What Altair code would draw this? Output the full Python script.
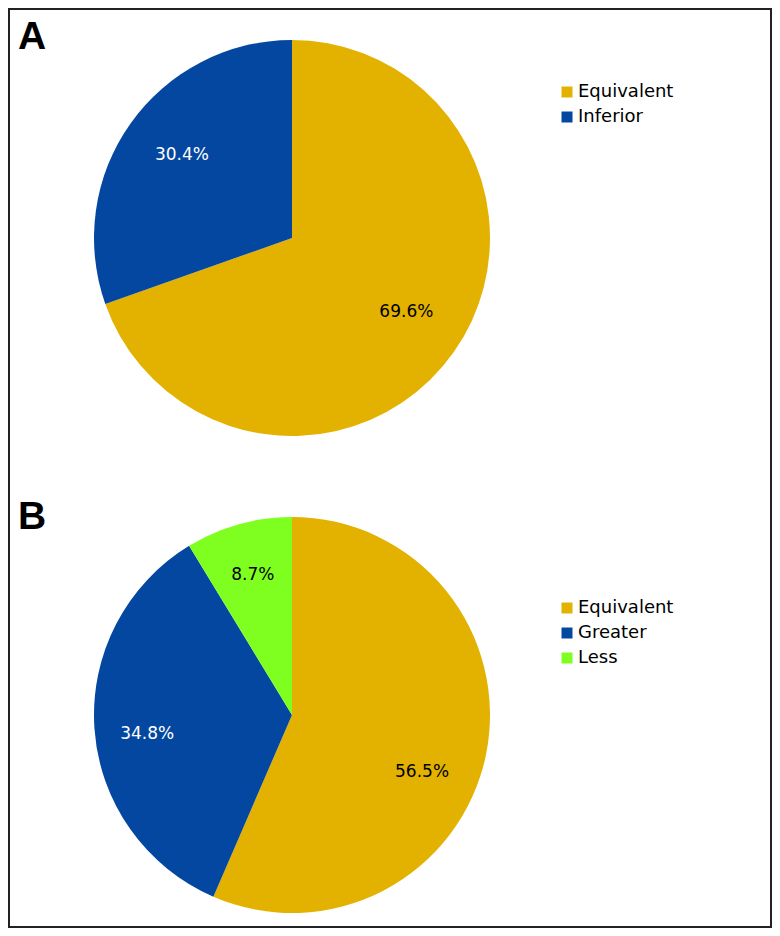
import math
import altair as alt
import pandas as pd

# ---- data ----
cats_a = ["Equivalent", "Inferior"]
vals_a = [69.6, 30.4]
labels_a = ["69.6%", "30.4%"]

cats_b = ["Equivalent", "Greater", "Less"]
vals_b = [56.5, 34.8, 8.7]
labels_b = ["56.5%", "34.8%", "8.7%"]

# ---- styles ----
palette = {"Equivalent": "#E3B200", "Inferior": "#0447A0", "Greater": "#0447A0", "Less": "#7FFF1F"}
label_color = {"Equivalent": "black", "Inferior": "white", "Greater": "white", "Less": "black"}
# label placement: radius in px, angular shift in degrees from slice middle
label_radius_a = {"Equivalent": 136, "Inferior": 138}
label_shift_a = {"Equivalent": -2.5, "Inferior": 1.8}
label_radius_b = {"Equivalent": 142, "Greater": 146, "Less": 145}
label_shift_b = {"Equivalent": 12.0, "Greater": -3.5, "Less": 0.0}

FONT = "DejaVu Sans"
R = 198
THETA = alt.Scale(domain=[0, 100], range=[0, 2 * math.pi], nice=False, zero=True)


def frame(cats, vals, labels, radii, shifts):
    return pd.DataFrame({
        "cat": cats,
        "val": vals,
        "label": labels,
        "idx": list(range(len(cats))),
        "tcolor": [label_color[c] for c in cats],
        "lr": [radii[c] for c in cats],
        "shift": [shifts[c] for c in cats],
    })


df_a = frame(cats_a, vals_a, labels_a, label_radius_a, label_shift_a)
df_b = frame(cats_b, vals_b, labels_b, label_radius_b, label_shift_b)


def pie(df, cx, cy, legend_y):
    cats = list(df["cat"])
    arc = alt.Chart(df).mark_arc(radius=R, x=cx, y=cy, strokeWidth=0).encode(
        theta=alt.Theta("val:Q", stack=True, scale=THETA),
        order=alt.Order("idx:Q"),
        color=alt.Color(
            "cat:N",
            scale=alt.Scale(domain=cats, range=[palette[c] for c in cats]),
            sort=cats,
            legend=alt.Legend(
                title=None, orient="none", legendX=549, legendY=legend_y,
                symbolType="square", symbolSize=121, symbolStrokeWidth=0,
                labelFont=FONT, labelFontSize=18, labelColor="black",
                labelOffset=2, rowPadding=7, padding=0,
            ),
        ),
    )
    txt = alt.Chart(df).transform_window(
        cum="sum(val)", sort=[alt.SortField("idx")]
    ).transform_calculate(
        mid="datum.cum - datum.val / 2 + datum.shift * 100 / 360"
    ).mark_text(
        x=cx, y=cy, font=FONT, fontSize=17, align="center", baseline="middle"
    ).encode(
        theta=alt.Theta("mid:Q", stack=None, scale=THETA),
        radius=alt.Radius("lr:Q", scale=None),
        text="label:N",
        color=alt.Color("tcolor:N", scale=None, legend=None),
    )
    return arc, txt


arc_a, txt_a = pie(df_a, 283, 229, 74)
arc_b, txt_b = pie(df_b, 283, 706, 590)

letter_a = alt.Chart(pd.DataFrame({"t": ["A"]})).mark_text(
    font="Liberation Sans", fontWeight="bold", fontSize=39, align="left",
    baseline="alphabetic", color="black"
).encode(text="t:N", x=alt.value(9), y=alt.value(40))
letter_b = alt.Chart(pd.DataFrame({"t": ["B"]})).mark_text(
    font="Liberation Sans", fontWeight="bold", fontSize=39, align="left",
    baseline="alphabetic", color="black"
).encode(text="t:N", x=alt.value(9), y=alt.value(520))

chart = alt.layer(arc_a, txt_a, arc_b, txt_b, letter_a, letter_b).resolve_scale(
    color="independent"
).properties(
    width=762, height=918,
    padding={"left": 1, "top": 1, "right": 1, "bottom": 1},
    autosize=alt.AutoSizeParams(type="none"),
    background="white",
).configure_view(stroke="#222222", strokeWidth=2)

chart.save("out.html", embed_options={"renderer": "svg", "actions": False})
